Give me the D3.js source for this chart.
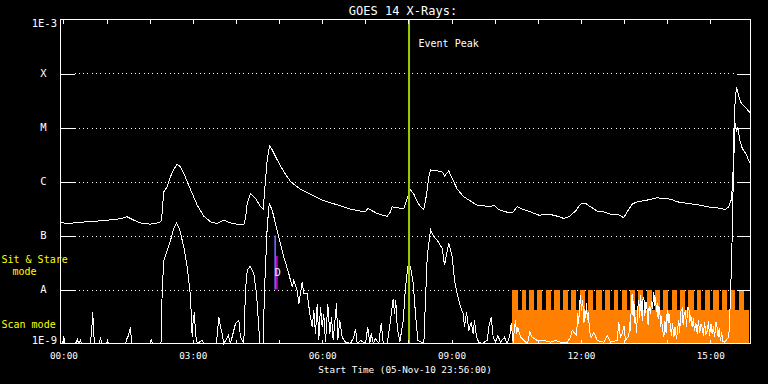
<!DOCTYPE html>
<html><head><meta charset="utf-8">
<script src="https://cdn.jsdelivr.net/npm/d3@7"></script>
<style>
html,body{margin:0;padding:0;background:#000;}
svg{display:block;}
text{font-family:"DejaVu Sans Mono",monospace;}
</style></head>
<body><svg id="c" width="768" height="384"></svg>
<script>
// ---- data (time = minutes after 06-Nov-10 00:00 UT, flux in W/m^2) ----
const startMinute = -4, endMinute = 956;
const hourTicks = [0,60,120,180,240,300,360,420,480,540,600,660,720,780,840,900];
const labelTicks = [0,180,360,540,720,900];
const labelText = ["00:00","03:00","06:00","09:00","12:00","15:00"];
const levelValues = [1e-8,1e-7,1e-6,1e-5,1e-4];
const levelLabels = ["A","B","C","M","X"];
const yMin = 1e-9, yMax = 1e-3;
const yEndLabels = ["1E-9","1E-3"];

const longChannel = [[-4,1.74e-7],[5.3,1.67e-7],[19.2,1.73e-7],[33.1,1.80e-7],[51.7,1.87e-7],[70.2,1.98e-7],[79.5,2.05e-7],[88.8,2.22e-7],[98,1.92e-7],[107.3,1.71e-7],[121.2,1.62e-7],[130.5,1.71e-7],[135.1,1.79e-7],[136.5,1.92e-7],[139.7,6.46e-7],[144.5,8.0e-7],[149.1,1.23e-6],[153.6,1.69e-6],[158.4,2.09e-6],[163,1.88e-6],[167.5,1.42e-6],[172.3,9.9e-7],[179.2,6.03e-7],[186.2,3.65e-7],[195.4,2.28e-7],[204.7,1.79e-7],[214,1.67e-7],[223.2,1.92e-7],[232.5,1.71e-7],[241.8,1.62e-7],[251,1.60e-7],[253.4,2.07e-7],[255.8,3.93e-7],[260.3,6.03e-7],[267.3,4.87e-7],[274.3,3.40e-7],[278,3.04e-7],[281.2,1.07e-6],[283.6,2.51e-6],[286.8,4.57e-6],[290.5,3.85e-6],[297.5,2.51e-6],[306.7,1.52e-6],[316,1.0e-6],[329.9,7.15e-7],[343.8,5.78e-7],[357.7,4.67e-7],[371.7,4.03e-7],[385.6,3.55e-7],[399.5,3.08e-7],[413.4,2.83e-7],[420.3,2.74e-7],[423.5,3.17e-7],[429.7,2.86e-7],[436.6,2.56e-7],[443.6,2.38e-7],[450.5,2.28e-7],[455.1,2.74e-7],[457.5,3.40e-7],[464.5,3.26e-7],[473.6,3.17e-7],[478.4,4.87e-7],[483,6.94e-7],[487.5,5.85e-7],[492.3,4.21e-7],[496.9,3.40e-7],[501.5,3.08e-7],[505.2,5.61e-7],[508.4,1.23e-6],[510.8,1.64e-6],[520.1,1.57e-6],[527.1,1.50e-6],[530.3,1.27e-6],[536.2,1.57e-6],[543.2,9.8e-7],[547.9,7.25e-7],[557.1,5.21e-7],[566.4,4.34e-7],[575.7,3.65e-7],[587.3,3.50e-7],[594.3,3.40e-7],[598.9,3.65e-7],[605.8,3.04e-7],[615.1,2.74e-7],[624.4,2.63e-7],[626.7,2.83e-7],[631.4,3.40e-7],[638.4,3.08e-7],[649.9,2.74e-7],[661.5,2.38e-7],[677.7,2.45e-7],[687.1,2.28e-7],[696.3,2.07e-7],[703.2,2.22e-7],[712.5,2.83e-7],[719.5,3.81e-7],[726.4,3.93e-7],[733.4,3.40e-7],[742.7,2.83e-7],[751.9,2.74e-7],[761.2,2.49e-7],[770.5,2.49e-7],[779.7,2.14e-7],[784.4,2.74e-7],[791.4,3.81e-7],[798.4,4.21e-7],[812.3,4.53e-7],[826.2,4.99e-7],[844.7,4.72e-7],[854,4.21e-7],[867.9,3.93e-7],[886.4,3.65e-7],[895.7,3.40e-7],[909.6,3.26e-7],[921.2,3.04e-7],[925.8,3.40e-7],[929.1,4.53e-7],[931.3,9.25e-7],[933.7,2.13e-5],[936.5,5.63e-5],[939.7,3.77e-5],[943.1,2.84e-5],[949,2.35e-5],[955,1.90e-5]];

const shortChannel = [[-4,1e-9],[-1.2,1e-9],[0.6,1.35e-9],[2.3,1e-9],[16.9,1e-9],[19.7,1.19e-9],[21,1e-9],[23.8,1.14e-9],[25.2,1e-9],[37.7,1e-9],[39.8,2.16e-9],[40.9,3.81e-9],[41.9,1.74e-9],[43.3,1e-9],[50.3,1e-9],[51.7,1.31e-9],[53.1,1e-9],[60,1e-9],[61.4,1.14e-9],[62.8,1e-9],[86.4,1e-9],[88.5,1.24e-9],[90.6,1.41e-9],[93.4,2.01e-9],[94.8,1e-9],[121.2,1e-9],[122.6,1.14e-9],[124,1e-9],[135.8,1e-9],[137.5,9.65e-9],[139.7,3.48e-8],[144.5,5.34e-8],[149.1,8.19e-8],[153.6,1.35e-7],[157.4,1.72e-7],[162,1.26e-7],[167.5,6.15e-8],[172.3,2.62e-8],[176.9,7.25e-9],[179.2,1.31e-9],[180.6,2.67e-9],[182.4,3.81e-9],[183.8,1.53e-9],[186.2,1e-9],[193.2,1.14e-9],[195.4,1e-9],[213,1e-9],[216.2,3.08e-9],[218.6,2.01e-9],[221,1.53e-9],[223.2,1e-9],[229.7,1.41e-9],[232.5,1e-9],[239.5,2.35e-9],[241.8,2.49e-9],[244.1,2.67e-9],[246.4,1.31e-9],[251,1e-9],[253.4,9.65e-9],[255.8,2.27e-8],[259.4,2.62e-8],[260.3,2.62e-8],[264.9,1.97e-8],[268.7,8.38e-9],[271.9,2.01e-9],[273.3,1e-9],[278,1e-9],[279.8,9.65e-9],[283.6,1.45e-7],[286.4,3.94e-7],[290.5,2.96e-7],[295.1,1.67e-7],[299.7,9.44e-8],[306.7,4.01e-8],[313.6,1.97e-8],[318.4,1.11e-8],[320.6,1.48e-8],[325.3,9.65e-9],[327.6,5.46e-9],[332.3,1.38e-8],[334.5,8.38e-9],[339.2,8.38e-9],[342.9,3.56e-9],[346.2,2.01e-9],[348.4,4.10e-9],[350.8,1.53e-9],[353.2,5.46e-9],[355.4,1.14e-9],[357.7,4.72e-9],[360.1,2.01e-9],[362.3,3.56e-9],[364.7,1.06e-9],[367.9,5.46e-9],[370.7,1.51e-9],[373,3.08e-9],[375.4,1.14e-9],[380,5.61e-9],[381.8,1.14e-9],[384.6,2.67e-9],[387.9,1.31e-9],[392.5,1.06e-9],[399.5,1e-9],[404.1,1.31e-9],[406.4,1.88e-9],[408.8,1e-9],[413.4,1.14e-9],[420.3,1e-9],[423.5,2.01e-9],[426.3,1e-9],[428.3,1.53e-9],[431.1,1e-9],[434.3,1.24e-9],[438.9,1e-9],[442.2,2.38e-9],[445,1e-9],[450.5,1e-9],[455.1,2.67e-9],[458.9,6.77e-9],[460.7,3.56e-9],[462.5,6.29e-9],[464.5,2.01e-9],[468.1,1.06e-9],[472.8,2.67e-9],[476,1.11e-8],[479.2,2.62e-8],[483,2.62e-8],[486.7,1.29e-8],[489.9,3.56e-9],[493.1,1.14e-9],[501.5,1e-9],[503.8,6.29e-9],[506.2,4.01e-8],[510.8,1.29e-7],[515.4,9.44e-8],[520.1,8.19e-8],[527.1,5.74e-8],[530.3,2.81e-8],[536.2,7.30e-8],[541,4.01e-8],[544.2,1.48e-8],[547.9,8.38e-9],[552.5,4.72e-9],[556.3,3.56e-9],[558.1,2.01e-9],[560.9,3.81e-9],[564.1,1.74e-9],[567.4,2.49e-9],[570.2,1.51e-9],[572,2.67e-9],[574.8,1.31e-9],[578,1.06e-9],[582.2,1e-9],[589.7,1.14e-9],[591.9,2.01e-9],[595.2,3.08e-9],[598,1.31e-9],[601.2,1.06e-9],[604.4,1.41e-9],[608.2,1.06e-9],[613.7,1.31e-9],[617.5,1e-9],[621.1,1.41e-9],[623.1,2.35e-9],[625.9,1e-9],[627.5,1.9e-9],[629.1,2.67e-9],[630.5,1.5e-9],[632.3,2.01e-9],[636,1.31e-9],[640.6,1.14e-9],[645.7,1e-9],[649,1.62e-9],[652.3,1.31e-9],[659.2,1.14e-9],[668.4,1.14e-9],[677.7,1.06e-9],[684.7,1.14e-9],[691.7,1.06e-9],[701,1.06e-9],[705.6,1.31e-9],[708,1.74e-9],[712.5,1.51e-9],[714,1.4e-9],[715.7,3.6e-9],[717,2.3e-9],[718.3,5.5e-9],[719.5,7.8e-9],[720.8,4.0e-9],[722,6.3e-9],[723.2,4.7e-9],[724.3,2.4e-9],[725.5,4.3e-9],[726.6,3.0e-9],[727.8,5.5e-9],[729,2.7e-9],[730,3.8e-9],[731,2.7e-9],[732.5,1.6e-9],[734.4,1.3e-9],[738,1.62e-9],[742.7,1.14e-9],[751.9,1.06e-9],[756.7,1.41e-9],[761.2,1.06e-9],[770.5,1.14e-9],[772.8,2.49e-9],[775,1.3e-9],[777.5,1.51e-9],[780,2.1e-9],[782.1,1.14e-9],[786.7,1.4e-9],[788,2.5e-9],[789.1,1.7e-9],[790.3,6.5e-9],[791.4,8.4e-9],[792.6,3.2e-9],[793.8,6.0e-9],[795,2.4e-9],[796,3.1e-9],[797.5,1.6e-9],[799,4.5e-9],[800.6,6.3e-9],[802,3.0e-9],[803,7.8e-9],[804,5.5e-9],[805.5,2.6e-9],[806.5,6.8e-9],[807.6,7.3e-9],[809,3.3e-9],[810.5,5.9e-9],[812.3,4.1e-9],[813.5,2.2e-9],[815,5.0e-9],[816.9,3.6e-9],[818.3,6.1e-9],[819.6,4.3e-9],[821.5,9.0e-9],[822.8,5.0e-9],[824,7.4e-9],[825,3.9e-9],[826.2,5.5e-9],[827.5,2.8e-9],[828.5,4.9e-9],[829.8,4.1e-9],[831,2.0e-9],[832,3.2e-9],[833.2,2.0e-9],[835.4,1.3e-9],[837,2.6e-9],[838.5,1.6e-9],[840.1,4.1e-9],[841.5,2.4e-9],[842.5,3.6e-9],[844.7,2.0e-9],[846,1.4e-9],[847.5,2.4e-9],[849.3,1.3e-9],[851,2.0e-9],[853,1.2e-9],[856.2,2.7e-9],[857.5,1.6e-9],[859,3.9e-9],[861,4.4e-9],[862.3,2.2e-9],[863.5,3.4e-9],[865.6,4.1e-9],[867,2.0e-9],[868.5,4.6e-9],[870.2,4.7e-9],[871.5,2.4e-9],[873,3.3e-9],[874.9,2.0e-9],[876.5,2.9e-9],[878,1.7e-9],[880,2.4e-9],[881.9,1.5e-9],[883.5,2.7e-9],[885.5,1.6e-9],[887,2.3e-9],[888.8,2.0e-9],[890.5,1.4e-9],[892,2.5e-9],[894,1.5e-9],[895.8,1.7e-9],[897.5,2.6e-9],[899,1.4e-9],[901,2.3e-9],[902.7,1.5e-9],[904.5,2.1e-9],[906,1.3e-9],[908,2.5e-9],[909.6,2.0e-9],[911,1.3e-9],[912.5,1.9e-9],[914.2,1.1e-9],[916,1.6e-9],[917.5,1.1e-9],[919.8,1.06e-9],[925.8,1.31e-9],[928.2,7.25e-9],[930.5,9.44e-8],[931.9,9.26e-7],[933.7,6.80e-6],[935.1,1.21e-5],[936.5,8.42e-6],[938.3,9.74e-6],[941.1,5.90e-6],[944.5,4.14e-6],[950.5,3.11e-6],[955,2.18e-6]];

// EIS observing mode: scan mode from scanStart to scanEnd, sit & stare everywhere but in the gaps
const scanStart = 624.4, scanEnd = 953.6;
const stareLevel = 1e-8, scanLevel = 4.2e-9;
const scanGaps = [[632.8,637.4],[643.9,648.5],[655.0,659.6],[666.6,671.2],[678.7,683.3],[690.3,694.9],[701.9,706.5],[713.9,718.5],[726.0,730.6],[737.1,741.7],[749.2,753.8],[760.8,765.4],[772.3,776.9],[784.4,789.0],[795.5,800.1],[807.1,811.7],[818.7,823.3],[829.9,834.5],[841.5,846.1],[854.0,858.6],[864.6,869.2],[876.7,881.3],[887.8,892.4],[899.9,904.5],[911.9,916.5],[923.5,928.1],[935.1,939.7],[946.7,953.6]];

const eventPeakTime = 480.9;
const markerA = {time:294.7, top:1e-7, bottom:1e-8};
const markerB = {time:297.1, top:4.17e-8, bottom:1e-8};
const markerLabel = "D";

const titleText = "GOES 14 X-Rays:";
const xTitle = "Start Time (05-Nov-10 23:56:00)";

// ---- drawing ----
const svg = d3.select("#c");
const L = 60.5, R = 750.5, T = 19.5, B = 343.5;
const x = d3.scaleLinear().domain([startMinute, endMinute]).range([L, R]);
const y = d3.scaleLog().domain([yMin, yMax]).range([B, T]).clamp(true);

svg.append("rect").attr("width",768).attr("height",384).attr("fill","#000");

// dotted grid
svg.append("g").selectAll("line").data(levelValues).join("line")
  .attr("x1", L+14).attr("x2", R-14)
  .attr("y1", d=>Math.round(y(d))+0.5).attr("y2", d=>Math.round(y(d))+0.5)
  .attr("stroke","#fff").attr("stroke-width",1)
  .attr("stroke-dasharray","1,3.33").attr("shape-rendering","crispEdges");

// observing mode (orange)
const og = svg.append("g").attr("fill","#ff8000").attr("shape-rendering","crispEdges");
og.append("rect").attr("x", x(scanStart)).attr("width", x(scanEnd)-x(scanStart))
  .attr("y", y(scanLevel)).attr("height", y(yMin)-y(scanLevel));
const teeth = [];
let prev = scanStart;
scanGaps.forEach(g => { if (g[0] > prev) teeth.push([prev, g[0]]); prev = g[1]; });
if (prev < scanEnd) teeth.push([prev, scanEnd]);
og.selectAll("rect.t").data(teeth).join("rect").attr("class","t")
  .attr("x", d=>x(d[0])).attr("width", d=>x(d[1])-x(d[0]))
  .attr("y", y(stareLevel)).attr("height", y(scanLevel)-y(stareLevel));

// curves
const line = d3.line().x(d=>x(d[0])).y(d=>y(Math.max(d[1], yMin)));
svg.append("path").datum(shortChannel).attr("d", line)
  .attr("fill","none").attr("stroke","#fff").attr("stroke-width",1).attr("shape-rendering","crispEdges");
svg.append("path").datum(longChannel).attr("d", line)
  .attr("fill","none").attr("stroke","#fff").attr("stroke-width",1).attr("shape-rendering","crispEdges");

// event peak
svg.append("line").attr("x1", x(eventPeakTime)).attr("x2", x(eventPeakTime))
  .attr("y1", T).attr("y2", B).attr("stroke","#99cc00").attr("stroke-width",2);
svg.append("text").attr("x", x(eventPeakTime)+9.5).attr("y", 47)
  .attr("fill","#fff").attr("font-size","10px").text("Event Peak");

// markers
svg.append("line").attr("x1", x(markerA.time)).attr("x2", x(markerA.time))
  .attr("y1", y(markerA.top)).attr("y2", y(markerA.bottom))
  .attr("stroke","#6464ff").attr("stroke-width",1.7);
svg.append("line").attr("x1", x(markerB.time)).attr("x2", x(markerB.time))
  .attr("y1", y(markerB.top)).attr("y2", y(markerB.bottom))
  .attr("stroke","#cc00cc").attr("stroke-width",1.7);
svg.append("text").attr("x", x(markerA.time)-0.5).attr("y", 276)
  .attr("fill","#fff").attr("font-size","10px").text(markerLabel);

// frame
svg.append("rect").attr("x",L).attr("y",T).attr("width",R-L).attr("height",B-T)
  .attr("fill","none").attr("stroke","#fff").attr("shape-rendering","crispEdges");

// axes ticks
const tickStyle = g => { g.select(".domain").remove(); g.selectAll("line").attr("stroke","#fff").attr("shape-rendering","crispEdges"); };
svg.append("g").attr("transform",`translate(0,${T})`)
  .call(d3.axisTop(x).tickValues(hourTicks).tickSize(-4).tickFormat(""))
  .call(tickStyle);
const xb = svg.append("g").attr("transform",`translate(0,${B})`)
  .call(d3.axisBottom(x).tickValues(hourTicks).tickSize(-4).tickPadding(8.4)
    .tickFormat(d => { const i = labelTicks.indexOf(d); return i >= 0 ? labelText[i] : ""; }))
  .call(tickStyle);
xb.selectAll("text").attr("fill","#fff").attr("font-size","9.3px")
  .attr("font-family","DejaVu Sans Mono, monospace");
svg.append("g").attr("transform",`translate(${L},0)`)
  .call(d3.axisLeft(y).tickValues(levelValues).tickSize(-14).tickFormat(""))
  .call(tickStyle);
svg.append("g").attr("transform",`translate(${R},0)`)
  .call(d3.axisRight(y).tickValues(levelValues).tickSize(-14).tickFormat(""))
  .call(tickStyle);

// y labels
svg.append("g").selectAll("text").data(levelValues).join("text")
  .attr("x", 43.5).attr("y", d=>y(d)).attr("dy","0.36em")
  .attr("text-anchor","middle").attr("fill","#fff").attr("font-size","10.5px")
  .text((d,i)=>levelLabels[i]);
svg.append("text").attr("x",57).attr("y",y(yMin)-3).attr("dy","0.36em")
  .attr("text-anchor","end").attr("fill","#fff").attr("font-size","10.5px").text(yEndLabels[0]);
svg.append("text").attr("x",57).attr("y",y(yMax)+3.5).attr("dy","0.36em")
  .attr("text-anchor","end").attr("fill","#fff").attr("font-size","10.5px").text(yEndLabels[1]);

// mode labels
const ylab = svg.append("g").attr("fill","#ffff00").attr("font-size","10px");
ylab.append("text").attr("x",1.5).attr("y",263).text("Sit & Stare");
ylab.append("text").attr("x",12.5).attr("y",275).text("mode");
ylab.append("text").attr("x",1.5).attr("y",328).text("Scan mode");

// titles
svg.append("text").attr("x",403).attr("y",14.5).attr("text-anchor","middle")
  .attr("fill","#fff").attr("font-size","12px").text(titleText);
svg.append("text").attr("x",405).attr("y",372.5).attr("text-anchor","middle")
  .attr("fill","#fff").attr("font-size","9.3px").text(xTitle);
</script></body></html>
